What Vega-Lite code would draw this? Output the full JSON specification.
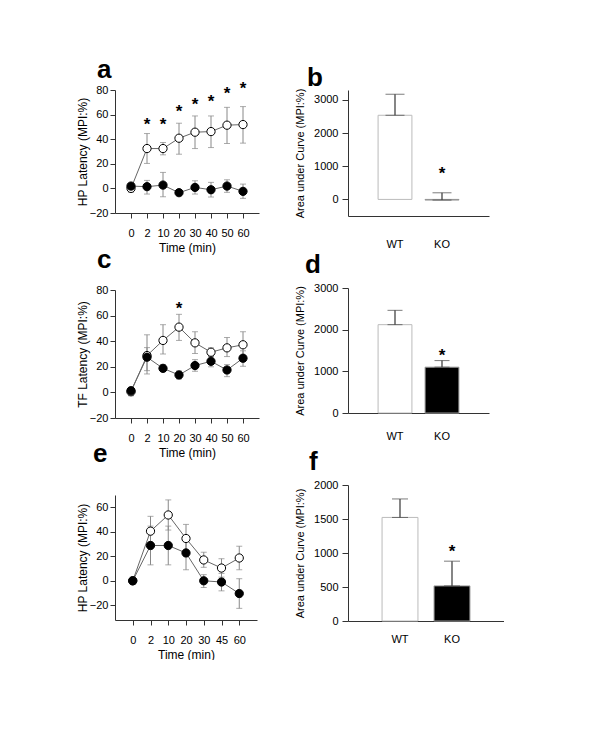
{
  "$schema": "https://vega.github.io/schema/vega-lite/v6.json",
  "background": "white",
  "padding": {"left": 76, "top": 56, "right": 0, "bottom": 0},
  "config": {
    "font": "Liberation Sans",
    "view": {"stroke": null},
    "axis": {"grid": false, "domainColor": "#333", "tickColor": "#333", "labelColor": "#000", "titleColor": "#000", "labelFontSize": 11, "titleFontSize": 12, "titleFontWeight": "normal", "tickSize": 5, "labelPadding": 4, "labelOverlap": false, "tickCount": 12},
    "title": {"fontSize": 26, "fontWeight": "bold", "anchor": "start", "frame": "group", "color": "#000"}
  },
  "datasets": {
    "la": [
      {"group": "WT", "time": "0", "mean": 0, "lo": -3, "hi": 3},
      {"group": "WT", "time": "2", "mean": 32.4, "lo": 20.3, "hi": 44.6},
      {"group": "WT", "time": "10", "mean": 32.4, "lo": 27.3, "hi": 37.3},
      {"group": "WT", "time": "20", "mean": 40.8, "lo": 27.8, "hi": 53},
      {"group": "WT", "time": "30", "mean": 45.7, "lo": 32.4, "hi": 58.9},
      {"group": "WT", "time": "40", "mean": 46.2, "lo": 33.2, "hi": 58.9},
      {"group": "WT", "time": "50", "mean": 51.4, "lo": 36.5, "hi": 65.9},
      {"group": "WT", "time": "60", "mean": 51.9, "lo": 36.8, "hi": 66.5},
      {"group": "KO", "time": "0", "mean": 1.9, "lo": -2.7, "hi": 3.8},
      {"group": "KO", "time": "2", "mean": 1.4, "lo": -4.6, "hi": 6.5},
      {"group": "KO", "time": "10", "mean": 2.7, "lo": -6.8, "hi": 13},
      {"group": "KO", "time": "20", "mean": -3.5, "lo": -5.4, "hi": -1.4},
      {"group": "KO", "time": "30", "mean": 0.8, "lo": -4.6, "hi": 6.2},
      {"group": "KO", "time": "40", "mean": -1.1, "lo": -7, "hi": 4.9},
      {"group": "KO", "time": "50", "mean": 1.9, "lo": -3.2, "hi": 7},
      {"group": "KO", "time": "60", "mean": -2.4, "lo": -8.1, "hi": 3.5}
    ],
    "sa": [
      {"time": "2", "star": 55.4},
      {"time": "10", "star": 55.4},
      {"time": "20", "star": 66.2},
      {"time": "30", "star": 71.6},
      {"time": "40", "star": 74.6},
      {"time": "50", "star": 81},
      {"time": "60", "star": 85.1}
    ],
    "lc": [
      {"group": "WT", "time": "0", "mean": 0.5, "lo": -2, "hi": 3},
      {"group": "WT", "time": "2", "mean": 28.8, "lo": 14.4, "hi": 45},
      {"group": "WT", "time": "10", "mean": 40.6, "lo": 30, "hi": 52.9},
      {"group": "WT", "time": "20", "mean": 51, "lo": 40.6, "hi": 61},
      {"group": "WT", "time": "30", "mean": 38.7, "lo": 30.4, "hi": 47.4},
      {"group": "WT", "time": "40", "mean": 31.4, "lo": 28, "hi": 34.8},
      {"group": "WT", "time": "50", "mean": 34.8, "lo": 28, "hi": 42.9},
      {"group": "WT", "time": "60", "mean": 37.2, "lo": 28, "hi": 47.4},
      {"group": "KO", "time": "0", "mean": 1.3, "lo": -2.6, "hi": 4},
      {"group": "KO", "time": "2", "mean": 27.5, "lo": 17, "hi": 35},
      {"group": "KO", "time": "10", "mean": 18.8, "lo": 16.2, "hi": 21.7},
      {"group": "KO", "time": "20", "mean": 13.6, "lo": 10.5, "hi": 16.8},
      {"group": "KO", "time": "30", "mean": 21, "lo": 16.5, "hi": 25.6},
      {"group": "KO", "time": "40", "mean": 24.3, "lo": 20, "hi": 28},
      {"group": "KO", "time": "50", "mean": 17.5, "lo": 12.3, "hi": 21.7},
      {"group": "KO", "time": "60", "mean": 26.7, "lo": 20.4, "hi": 32.5}
    ],
    "sc": [
      {"time": "20", "star": 69}
    ],
    "le": [
      {"group": "WT", "time": "0", "mean": 0, "lo": -2, "hi": 2},
      {"group": "WT", "time": "2", "mean": 40.5, "lo": 28.5, "hi": 52.6},
      {"group": "WT", "time": "10", "mean": 53.7, "lo": 41.4, "hi": 66},
      {"group": "WT", "time": "20", "mean": 34.5, "lo": 23, "hi": 46},
      {"group": "WT", "time": "30", "mean": 17, "lo": 11, "hi": 23.3},
      {"group": "WT", "time": "45", "mean": 10.4, "lo": 3, "hi": 18},
      {"group": "WT", "time": "60", "mean": 18.6, "lo": 9, "hi": 28.2},
      {"group": "KO", "time": "0", "mean": 0, "lo": -3, "hi": 3},
      {"group": "KO", "time": "2", "mean": 28.8, "lo": 13, "hi": 44.6},
      {"group": "KO", "time": "10", "mean": 28.8, "lo": 13, "hi": 44.6},
      {"group": "KO", "time": "20", "mean": 22.7, "lo": 9, "hi": 36.4},
      {"group": "KO", "time": "30", "mean": 0, "lo": -5.5, "hi": 5},
      {"group": "KO", "time": "45", "mean": -1, "lo": -8.2, "hi": 6},
      {"group": "KO", "time": "60", "mean": -10.4, "lo": -22.5, "hi": 1.7}
    ],
    "bb": [
      {"genotype": "WT", "auc": 2538, "hi": 3172, "star": null},
      {"genotype": "KO", "auc": -20, "hi": 200, "star": 906}
    ],
    "bd": [
      {"genotype": "WT", "auc": 2120, "hi": 2464, "star": null},
      {"genotype": "KO", "auc": 1100, "hi": 1258, "star": 1498}
    ],
    "bf": [
      {"genotype": "WT", "auc": 1523, "hi": 1795, "star": null},
      {"genotype": "KO", "auc": 516, "hi": 880, "star": 1081}
    ]
  },
  "spacing": 35,
  "hconcat": [
    {
      "spacing": 77,
      "bounds": "flush",
      "vconcat": [
        {
          "width": 144, "height": 123,
          "title": {"text": "a", "dx": -18, "offset": -3},
          "encoding": {
            "x": {"field": "time", "type": "ordinal", "sort": null,
              "scale": {"type": "point", "padding": 1, "domain": ["0", "2", "10", "20", "30", "40", "50", "60"]},
              "axis": {"labelAngle": 0, "title": "Time (min)", "labelPadding": 9, "titlePadding": 4}}
          },
          "layer": [
            {"data": {"name": "la"}, "mark": {"type": "line", "color": "#666", "strokeWidth": 1},
              "encoding": {"y": {"field": "mean", "type": "quantitative", "title": "HP Latency (MPI:%)", "scale": {"domain": [-20, 80], "nice": false}, "axis": {"values": [-20, 0, 20, 40, 60, 80], "titlePadding": 0, "labelPadding": 2}}, "detail": {"field": "group"}}},
            {"data": {"name": "la"}, "mark": {"type": "errorbar", "color": "#888", "ticks": {"size": 6, "color": "#888"}},
              "encoding": {"y": {"field": "lo", "type": "quantitative", "title": "HP Latency (MPI:%)", "axis": {"values": [-20, 0, 20, 40, 60, 80], "titlePadding": 0, "labelPadding": 2}}, "y2": {"field": "hi"}}},
            {"data": {"name": "la"}, "mark": {"type": "point", "filled": true, "size": 68, "stroke": "#000", "strokeWidth": 1, "opacity": 1},
              "encoding": {"y": {"field": "mean", "type": "quantitative", "title": "HP Latency (MPI:%)"}, "fill": {"field": "group", "type": "nominal", "scale": {"domain": ["WT", "KO"], "range": ["#ffffff", "#000000"]}, "legend": null}}},
            {"data": {"name": "sa"}, "mark": {"type": "text", "text": "*", "fontSize": 17, "fontWeight": "bold", "baseline": "alphabetic", "dy": 10},
              "encoding": {"y": {"field": "star", "type": "quantitative", "title": "HP Latency (MPI:%)"}}}
          ]
        },
        {
          "width": 144, "height": 128,
          "title": {"text": "c", "dx": -18, "offset": 11},
          "encoding": {
            "x": {"field": "time", "type": "ordinal", "sort": null,
              "scale": {"type": "point", "padding": 1, "domain": ["0", "2", "10", "20", "30", "40", "50", "60"]},
              "axis": {"labelAngle": 0, "title": "Time (min)", "labelPadding": 9, "titlePadding": 4}}
          },
          "layer": [
            {"data": {"name": "lc"}, "mark": {"type": "line", "color": "#666", "strokeWidth": 1},
              "encoding": {"y": {"field": "mean", "type": "quantitative", "title": "TF Latency (MPI:%)", "scale": {"domain": [-20, 80], "nice": false}, "axis": {"values": [-20, 0, 20, 40, 60, 80], "titlePadding": 0, "labelPadding": 2}}, "detail": {"field": "group"}}},
            {"data": {"name": "lc"}, "mark": {"type": "errorbar", "color": "#888", "ticks": {"size": 6, "color": "#888"}},
              "encoding": {"y": {"field": "lo", "type": "quantitative", "title": "TF Latency (MPI:%)", "axis": {"values": [-20, 0, 20, 40, 60, 80], "titlePadding": 0, "labelPadding": 2}}, "y2": {"field": "hi"}}},
            {"data": {"name": "lc"}, "mark": {"type": "point", "filled": true, "size": 68, "stroke": "#000", "strokeWidth": 1, "opacity": 1},
              "encoding": {"y": {"field": "mean", "type": "quantitative", "title": "TF Latency (MPI:%)"}, "fill": {"field": "group", "type": "nominal", "scale": {"domain": ["WT", "KO"], "range": ["#ffffff", "#000000"]}, "legend": null}}},
            {"data": {"name": "sc"}, "mark": {"type": "text", "text": "*", "fontSize": 17, "fontWeight": "bold", "baseline": "alphabetic", "dy": 10},
              "encoding": {"y": {"field": "star", "type": "quantitative", "title": "TF Latency (MPI:%)"}}}
          ]
        },
        {
          "width": 142, "height": 125,
          "title": {"text": "e", "dx": -22, "offset": 28},
          "encoding": {
            "x": {"field": "time", "type": "ordinal", "sort": null,
              "scale": {"type": "point", "padding": 1, "domain": ["0", "2", "10", "20", "30", "45", "60"]},
              "axis": {"labelAngle": 0, "title": "Time (min)", "labelPadding": 9, "titlePadding": 4}}
          },
          "layer": [
            {"data": {"name": "le"}, "mark": {"type": "line", "color": "#666", "strokeWidth": 1},
              "encoding": {"y": {"field": "mean", "type": "quantitative", "title": "HP Latency (MPI:%)", "scale": {"domain": [-32, 70], "nice": false}, "axis": {"values": [-20, 0, 20, 40, 60], "titlePadding": 0, "labelPadding": 2}}, "detail": {"field": "group"}}},
            {"data": {"name": "le"}, "mark": {"type": "errorbar", "color": "#888", "ticks": {"size": 6, "color": "#888"}},
              "encoding": {"y": {"field": "lo", "type": "quantitative", "title": "HP Latency (MPI:%)", "axis": {"values": [-20, 0, 20, 40, 60], "titlePadding": 0, "labelPadding": 2}}, "y2": {"field": "hi"}}},
            {"data": {"name": "le"}, "mark": {"type": "point", "filled": true, "size": 68, "stroke": "#000", "strokeWidth": 1, "opacity": 1},
              "encoding": {"y": {"field": "mean", "type": "quantitative", "title": "HP Latency (MPI:%)"}, "fill": {"field": "group", "type": "nominal", "scale": {"domain": ["WT", "KO"], "range": ["#ffffff", "#000000"]}, "legend": null}}}
          ]
        }
      ]
    },
    {
      "spacing": 72,
      "bounds": "flush",
      "vconcat": [
        {
          "width": 141, "height": 126,
          "title": {"text": "b", "dx": -41, "offset": -3},
          "data": {"name": "bb"},
          "encoding": {
            "x": {"field": "genotype", "type": "nominal", "sort": null,
              "scale": {"type": "band", "domain": ["WT", "KO"], "paddingInner": 0.28, "paddingOuter": 0.64},
              "axis": {"labelAngle": 0, "title": null, "ticks": false, "labelPadding": 22, "labelFontSize": 11}}
          },
          "layer": [
            {"mark": {"type": "rule", "color": "#888", "strokeWidth": 1}, "encoding": {"y": {"datum": 0, "type": "quantitative", "title": "Area under Curve (MPI:%)"}}},
            {"mark": {"type": "bar", "strokeWidth": 1},
              "encoding": {"y": {"field": "auc", "type": "quantitative", "title": "Area under Curve (MPI:%)", "scale": {"domain": [-500, 3300], "nice": false}, "axis": {"values": [0, 1000, 2000, 3000], "format": "d", "tickSize": 6, "titleFontSize": 11, "titlePadding": 8}},
                "fill": {"field": "genotype", "type": "nominal", "scale": {"domain": ["WT", "KO"], "range": ["#ffffff", "#000000"]}, "legend": null},
                "stroke": {"field": "genotype", "type": "nominal", "scale": {"domain": ["WT", "KO"], "range": ["#bbbbbb", "#999999"]}, "legend": null}}},
            {"mark": {"type": "errorbar", "color": "#444", "ticks": {"size": 19, "color": "#444"}, "rule": {"strokeWidth": 1.3}},
              "encoding": {"y": {"field": "auc", "type": "quantitative", "title": "Area under Curve (MPI:%)"}, "y2": {"field": "hi"}}},
            {"mark": {"type": "text", "text": "*", "fontSize": 17, "fontWeight": "bold", "baseline": "alphabetic", "dy": 10},
              "encoding": {"y": {"field": "star", "type": "quantitative", "title": "Area under Curve (MPI:%)"}}}
          ]
        },
        {
          "width": 141, "height": 125,
          "title": {"text": "d", "dx": -43, "offset": 4},
          "data": {"name": "bd"},
          "encoding": {
            "x": {"field": "genotype", "type": "nominal", "sort": null,
              "scale": {"type": "band", "domain": ["WT", "KO"], "paddingInner": 0.28, "paddingOuter": 0.64},
              "axis": {"labelAngle": 0, "title": null, "ticks": false, "labelPadding": 17, "labelFontSize": 11}}
          },
          "layer": [
            {"mark": {"type": "bar", "strokeWidth": 1},
              "encoding": {"y": {"field": "auc", "type": "quantitative", "title": "Area under Curve (MPI:%)", "scale": {"domain": [0, 3000], "nice": false}, "axis": {"values": [0, 1000, 2000, 3000], "format": "d", "tickSize": 6, "titleFontSize": 11, "titlePadding": 8}},
                "fill": {"field": "genotype", "type": "nominal", "scale": {"domain": ["WT", "KO"], "range": ["#ffffff", "#000000"]}, "legend": null},
                "stroke": {"field": "genotype", "type": "nominal", "scale": {"domain": ["WT", "KO"], "range": ["#bbbbbb", "#000000"]}, "legend": null}}},
            {"mark": {"type": "errorbar", "color": "#444", "ticks": {"size": 15, "color": "#444"}, "rule": {"strokeWidth": 1.3}},
              "encoding": {"y": {"field": "auc", "type": "quantitative", "title": "Area under Curve (MPI:%)"}, "y2": {"field": "hi"}}},
            {"mark": {"type": "text", "text": "*", "fontSize": 17, "fontWeight": "bold", "baseline": "alphabetic", "dy": 10},
              "encoding": {"y": {"field": "star", "type": "quantitative", "title": "Area under Curve (MPI:%)"}}}
          ]
        },
        {
          "width": 156, "height": 136,
          "title": {"text": "f", "dx": -39, "offset": 4},
          "data": {"name": "bf"},
          "encoding": {
            "x": {"field": "genotype", "type": "nominal", "sort": null,
              "scale": {"type": "band", "domain": ["WT", "KO"], "paddingInner": 0.31, "paddingOuter": 0.655},
              "axis": {"labelAngle": 0, "title": null, "ticks": false, "labelPadding": 12, "labelFontSize": 11}}
          },
          "layer": [
            {"mark": {"type": "bar", "strokeWidth": 1},
              "encoding": {"y": {"field": "auc", "type": "quantitative", "title": "Area under Curve (MPI:%)", "scale": {"domain": [0, 2000], "nice": false}, "axis": {"values": [0, 500, 1000, 1500, 2000], "format": "d", "tickSize": 6, "titleFontSize": 11, "titlePadding": 8}},
                "fill": {"field": "genotype", "type": "nominal", "scale": {"domain": ["WT", "KO"], "range": ["#ffffff", "#000000"]}, "legend": null},
                "stroke": {"field": "genotype", "type": "nominal", "scale": {"domain": ["WT", "KO"], "range": ["#bbbbbb", "#000000"]}, "legend": null}}},
            {"mark": {"type": "errorbar", "color": "#444", "ticks": {"size": 16, "color": "#444"}, "rule": {"strokeWidth": 1.3}},
              "encoding": {"y": {"field": "auc", "type": "quantitative", "title": "Area under Curve (MPI:%)"}, "y2": {"field": "hi"}}},
            {"mark": {"type": "text", "text": "*", "fontSize": 17, "fontWeight": "bold", "baseline": "alphabetic", "dy": 10},
              "encoding": {"y": {"field": "star", "type": "quantitative", "title": "Area under Curve (MPI:%)"}}}
          ]
        }
      ]
    }
  ]
}
